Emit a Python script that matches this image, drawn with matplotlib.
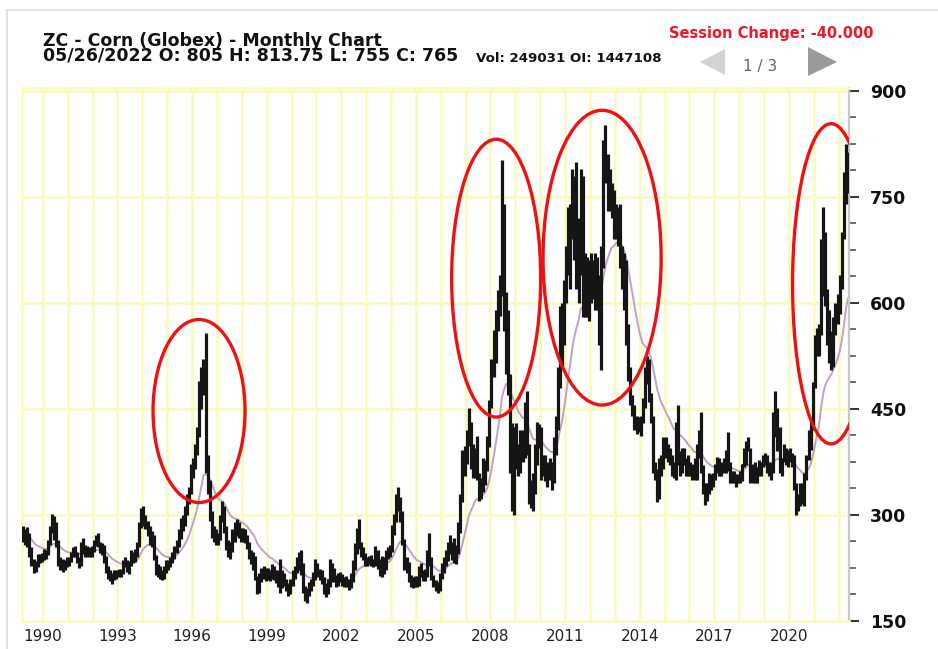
import numpy as np
import pandas as pd
import matplotlib
matplotlib.use('Agg')
import matplotlib.pyplot as plt
from matplotlib.patches import Ellipse, Polygon
from matplotlib.lines import Line2D

# ========== chart data (cents / bushel, monthly bars) ==========
start_month = '1989-03'

highs = [
    285, 280, 283, 275, 255, 238, 235, 245, 245, 246,                  # 1989 (Mar-Dec)
    252, 250, 265, 285, 302, 298, 290, 265, 240, 238, 236, 240,        # 1990
    240, 248, 255, 256, 248, 240, 262, 268, 258, 256, 254, 256,        # 1991
    264, 272, 275, 262, 260, 258, 242, 228, 222, 218, 222, 222,        # 1992
    224, 224, 236, 240, 236, 235, 250, 248, 252, 262, 290, 310,        # 1993
    312, 300, 292, 284, 278, 272, 244, 230, 228, 222, 228, 236,        # 1994
    236, 240, 248, 256, 264, 280, 296, 300, 312, 330, 340, 372,        # 1995
    380, 400, 425, 490, 510, 520, 557, 385, 350, 305, 285, 280,        # 1996
    275, 300, 320, 312, 285, 265, 262, 280, 290, 295, 290, 282,        # 1997
    282, 280, 272, 262, 250, 248, 242, 214, 218, 225, 228, 225,        # 1998
    225, 222, 230, 228, 222, 222, 238, 222, 218, 210, 204, 210,        # 1999
    222, 228, 240, 248, 250, 232, 200, 196, 205, 210, 220, 238,        # 2000
    232, 224, 222, 212, 204, 210, 238, 232, 225, 215, 218, 220,        # 2001
    216, 212, 214, 210, 218, 236, 260, 282, 294, 262, 255, 246,        # 2002
    240, 242, 244, 238, 256, 250, 238, 242, 240, 250, 254, 258,        # 2003
    286, 302, 330, 340, 325, 305, 266, 240, 234, 215, 212, 214,        # 2004
    214, 228, 232, 222, 224, 250, 275, 240, 215, 208, 205, 218,        # 2005
    232, 240, 250, 262, 272, 262, 268, 258, 290, 330, 392, 398,        # 2006
    420, 452, 432, 400, 395, 412, 360, 352, 380, 378, 412, 462,        # 2007
    520, 562, 590, 618, 640, 802, 740, 615, 590, 500, 430, 425,        # 2008
    430, 400, 420, 420, 460, 475, 400, 350, 360, 400, 432, 428,        # 2009
    425, 385, 385, 375, 380, 375, 410, 440, 510, 595, 600, 632,        # 2010
    680, 735, 740, 790, 780, 800, 720, 790, 780, 670, 665, 660,        # 2011
    670, 660, 670, 665, 640, 680, 830, 851, 810, 790, 770, 760,        # 2012
    740, 735, 740, 680, 670, 660, 570, 510, 470, 455, 440, 438,        # 2013
    440, 465, 510, 525, 520, 472, 440, 375, 365, 380, 385, 410,        # 2014
    410, 400, 395, 385, 375, 432, 455, 390, 395, 395, 380, 385,        # 2015
    375, 372, 380, 400, 420, 446, 370, 345, 345, 360, 358, 360,        # 2016
    372, 382, 380, 375, 380, 392, 417, 375, 362, 362, 358, 358,        # 2017
    362, 372, 395, 405, 410, 395, 372, 375, 368, 378, 375, 385,        # 2018
    388, 385, 375, 375, 445, 475, 452, 425, 380, 400, 395, 392,        # 2019
    395, 388, 385, 345, 330, 345, 345, 360, 385, 420, 435, 488,        # 2020
    555, 565, 570, 690, 736, 700, 620, 590, 560, 580, 600, 612,        # 2021
    640, 700, 785, 825, 813.75,                                        # 2022 (Jan-May)
]

lows = [
    262, 258, 255, 240, 228, 218, 220, 226, 232, 233,                  # 1989
    236, 238, 243, 258, 275, 265, 255, 228, 222, 220, 222, 226,        # 1990
    228, 234, 240, 240, 232, 225, 228, 245, 240, 240, 240, 240,        # 1991
    248, 256, 255, 246, 244, 232, 218, 210, 206, 202, 208, 210,        # 1992
    212, 212, 216, 226, 220, 216, 228, 232, 234, 240, 255, 282,        # 1993
    285, 280, 270, 258, 255, 236, 215, 212, 210, 208, 210, 218,        # 1994
    222, 226, 232, 238, 246, 254, 266, 278, 285, 300, 316, 330,        # 1995
    352, 365, 385, 410, 450, 470, 360, 330, 292, 268, 262, 258,        # 1996
    258, 265, 290, 275, 250, 240, 238, 248, 262, 270, 268, 262,        # 1997
    262, 260, 252, 238, 230, 222, 208, 188, 190, 205, 210, 206,        # 1998
    208, 206, 210, 208, 204, 198, 190, 196, 200, 192, 186, 188,        # 1999
    200, 210, 218, 222, 215, 190, 178, 175, 186, 192, 200, 208,        # 2000
    212, 208, 202, 188, 184, 188, 198, 205, 205, 198, 200, 205,        # 2001
    200, 198, 198, 194, 196, 205, 222, 245, 252, 240, 236, 228,        # 2002
    228, 230, 228, 226, 228, 224, 214, 212, 216, 222, 238, 240,        # 2003
    248, 272, 290, 305, 290, 258, 222, 218, 205, 198, 196, 198,        # 2004
    198, 200, 212, 206, 206, 212, 228, 208, 198, 192, 190, 192,        # 2005
    210, 218, 228, 235, 245, 236, 232, 230, 245, 275, 318, 355,        # 2006
    372, 398, 365, 352, 352, 350, 320, 322, 332, 342, 362, 396,        # 2007
    452, 495, 515, 560, 582, 610, 560, 500, 470, 360, 305, 300,        # 2008
    365, 355, 360, 375, 380, 385, 315, 310, 305, 330, 370, 395,        # 2009
    350, 355, 348, 340, 350, 335, 345, 385, 420, 480, 510, 540,        # 2010
    600, 640, 620, 690, 660, 620, 600, 640, 580, 580, 580, 575,        # 2011
    600, 605, 590, 590, 540, 505, 650, 770, 730, 730, 720, 690,        # 2012
    690, 680, 650, 620, 590, 540, 490, 455, 440, 420, 415, 418,        # 2013
    412, 430, 452, 485, 460, 430, 360, 350, 318, 322, 355, 365,        # 2014
    380, 375, 370, 355, 352, 350, 370, 355, 360, 370, 355, 355,        # 2015
    355, 350, 350, 350, 380, 360, 330, 314, 320, 330, 335, 340,        # 2016
    350, 360, 355, 355, 360, 360, 362, 345, 345, 345, 340, 345,        # 2017
    345, 348, 368, 370, 390, 345, 345, 345, 345, 355, 355, 368,        # 2018
    370, 360, 355, 350, 360, 410, 390, 360, 355, 375, 370, 368,        # 2019
    375, 368, 335, 300, 305, 312, 315, 312, 350, 378, 392, 420,        # 2020
    480, 525, 525, 555, 610, 595, 540, 515, 505, 510, 555, 570,        # 2021
    585, 620, 690, 740, 755,                                           # 2022
]

closes = [
    272, 262, 270, 248, 233, 222, 229, 238, 240, 239,                  # 1989
    242, 245, 260, 280, 290, 272, 262, 232, 228, 226, 229, 234,        # 1990
    236, 245, 250, 244, 238, 232, 255, 252, 246, 250, 246, 252,        # 1991
    260, 266, 260, 250, 252, 236, 224, 214, 212, 210, 218, 216,        # 1992
    220, 218, 232, 234, 224, 232, 244, 238, 244, 258, 285, 305,        # 1993
    298, 288, 278, 264, 268, 240, 220, 224, 214, 215, 222, 232,        # 1994
    230, 236, 244, 252, 260, 272, 285, 290, 306, 322, 334, 365,        # 1995
    372, 392, 415, 470, 485, 505, 372, 345, 300, 276, 270, 262,        # 1996
    270, 295, 305, 282, 258, 246, 252, 270, 282, 284, 276, 268,        # 1997
    275, 268, 258, 244, 236, 240, 212, 194, 212, 218, 222, 214,        # 1998
    218, 212, 225, 214, 212, 210, 200, 212, 206, 198, 190, 204,        # 1999
    218, 224, 234, 230, 228, 194, 182, 190, 198, 204, 214, 232,        # 2000
    216, 214, 206, 196, 192, 200, 212, 220, 212, 204, 212, 210,        # 2001
    206, 204, 202, 200, 212, 228, 255, 270, 258, 250, 242, 236,        # 2002
    234, 236, 234, 232, 246, 232, 220, 236, 224, 242, 246, 250,        # 2003
    280, 296, 322, 318, 304, 262, 228, 230, 210, 204, 200, 208,        # 2004
    204, 222, 218, 212, 216, 240, 238, 214, 204, 198, 196, 214,        # 2005
    226, 236, 242, 258, 254, 246, 252, 248, 282, 322, 375, 390,        # 2006
    405, 428, 374, 372, 386, 358, 330, 338, 362, 368, 402, 455,        # 2007
    505, 550, 567, 605, 625, 720, 585, 560, 495, 400, 370, 405,        # 2008
    380, 372, 405, 392, 440, 395, 330, 335, 340, 390, 415, 415,        # 2009
    362, 375, 355, 368, 362, 372, 395, 425, 495, 580, 545, 628,        # 2010
    660, 725, 690, 760, 700, 680, 670, 760, 600, 650, 600, 648,        # 2011
    640, 645, 645, 620, 600, 670, 810, 800, 756, 755, 748, 698,        # 2012
    725, 695, 670, 650, 610, 560, 500, 470, 445, 435, 420, 425,        # 2013
    432, 458, 500, 515, 470, 440, 370, 362, 325, 372, 375, 400,        # 2014
    385, 386, 378, 362, 360, 425, 375, 370, 390, 380, 362, 360,        # 2015
    370, 358, 352, 392, 412, 362, 338, 330, 335, 352, 348, 352,        # 2016
    366, 375, 360, 368, 368, 385, 372, 350, 355, 350, 352, 350,        # 2017
    355, 370, 385, 398, 395, 352, 365, 362, 360, 368, 372, 375,        # 2018
    378, 365, 358, 362, 430, 420, 400, 365, 378, 388, 375, 388,        # 2019
    380, 375, 340, 318, 325, 340, 322, 355, 380, 410, 425, 485,        # 2020
    540, 550, 560, 680, 660, 605, 550, 545, 536, 570, 585, 595,        # 2021
    628, 695, 750, 815, 765,                                           # 2022
]

year_ticks = list(range(1990, 2021, 3))
price_ticks = [150, 300, 450, 600, 750, 900]

# red circles drawn on the chart: (center year, center price, width yrs, height)
circles = [
    (1996.28, 447, 3.70, 259),
    (2008.23, 635, 3.58, 393),
    (2012.49, 664, 4.75, 417),
    (2021.70, 627, 3.10, 453),
]

W, H = 938, 649


def fx(px):
    return px / W


def fy(py):
    return 1 - py / H


def main():
    plt.rcParams['font.family'] = ['DejaVu Sans']
    fig = plt.figure(figsize=(W / 100, H / 100), dpi=100)
    fig.patch.set_facecolor('white')

    ax = fig.add_axes([fx(22), fy(621), fx(849) - fx(22), fy(88) - fy(621)])

    dates = pd.period_range(start_month, periods=len(closes), freq='M')
    x = np.asarray(dates.year + (dates.month - 0.5) / 12, dtype=float)
    closes_s = pd.Series(closes, dtype=float)
    opens = closes_s.shift(1).fillna(closes_s.iloc[0]).values
    ma = closes_s.ewm(span=20, adjust=False).mean().values

    grid_col = '#fbfbb8'
    for yr in range(1990, 2023):
        ax.axvline(yr, color=grid_col, lw=1.8, zorder=0)
    for p in price_ticks:
        ax.axhline(p, color=grid_col, lw=1.8, zorder=0)

    ax.plot(x, ma, color='#bfa3c2', lw=1.4, zorder=2)
    ax.vlines(x, lows, highs, color='#151515', lw=2.3, zorder=3)
    ax.hlines(opens, x - 0.07, x, color='#151515', lw=1.5, zorder=3)
    ax.hlines(closes, x, x + 0.07, color='#151515', lw=1.5, zorder=3)

    for cx, cy, w, h in circles:
        ax.add_patch(Ellipse((cx, cy), w, h, fill=False, edgecolor='#ee1111',
                             lw=2.4, zorder=5))

    ax.set_xlim(1989.16, 2022.42)
    ax.set_ylim(150, 904)

    ax.set_xticks(year_ticks)
    ax.set_xticklabels([str(y) for y in year_ticks], fontsize=11, color='#222222')
    ax.tick_params(axis='x', length=0, pad=6)

    ax.yaxis.tick_right()
    ax.set_yticks(price_ticks)
    ax.set_yticklabels([str(p) for p in price_ticks], fontsize=12.5,
                       fontweight='bold', color='#111111')
    ax.set_yticks(np.arange(150, 905, 37.5), minor=True)
    ax.tick_params(axis='y', which='major', length=7, width=1.4,
                   color='#333333', pad=8)
    ax.tick_params(axis='y', which='minor', length=5, width=1.2,
                   color='#555555')

    for side in ['left', 'top', 'bottom']:
        ax.spines[side].set_color(grid_col)
        ax.spines[side].set_linewidth(1.8)
    ax.spines['right'].set_color('#c8c8c8')
    ax.spines['right'].set_linewidth(1.6)

    # outer frame of the page
    fig.add_artist(Line2D([fx(7), 1], [fy(10), fy(10)], color='#dddddd', lw=1.2))
    fig.add_artist(Line2D([fx(7), fx(7)], [fy(10), 0], color='#dddddd', lw=1.2))

    # header text (two tight lines as one block)
    fig.text(fx(43), fy(61),
             'ZC - Corn (Globex) - Monthly Chart\n'
             '05/26/2022 O: 805 H: 813.75 L: 755 C: 765',
             fontsize=12.5, fontweight='bold', color='#111111',
             va='baseline', linespacing=0.82)
    fig.text(fx(476), fy(62), 'Vol: 249031 OI: 1447108', fontsize=9.6,
             fontweight='bold', color='#111111', va='baseline')
    fig.text(fx(873), fy(38), 'Session Change: -40.000', fontsize=10.5,
             fontweight='bold', color='#e8192c', va='baseline', ha='right')
    fig.text(fx(760), fy(71), '1 / 3', fontsize=11, color='#666666',
             va='baseline', ha='center')
    fig.add_artist(Polygon([(fx(700), fy(62)), (fx(725), fy(49)), (fx(725), fy(75))],
                           closed=True, transform=fig.transFigure,
                           facecolor='#d4d4d4', edgecolor='none'))
    fig.add_artist(Polygon([(fx(837), fy(62)), (fx(808), fy(47)), (fx(808), fy(76))],
                           closed=True, transform=fig.transFigure,
                           facecolor='#9a9a9a', edgecolor='none'))

    fig.savefig('out.png', dpi=100)


if __name__ == '__main__':
    main()
